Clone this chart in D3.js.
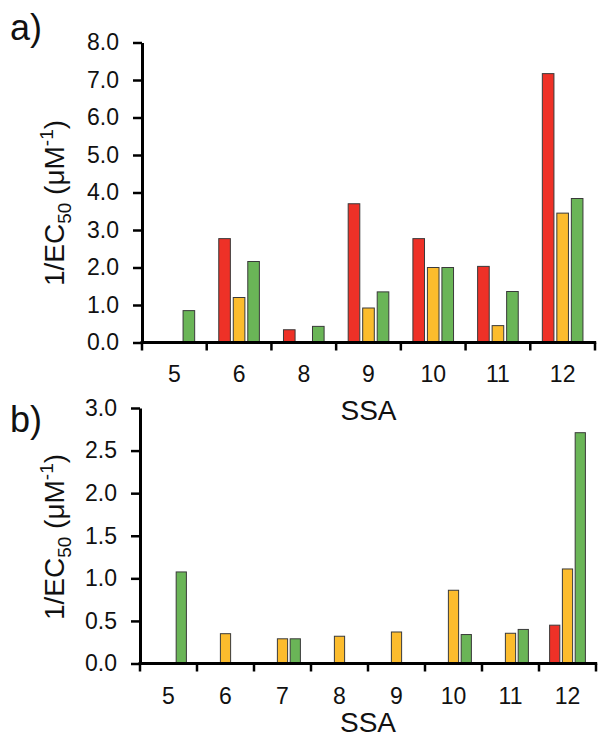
<!DOCTYPE html>
<html>
<head>
<meta charset="utf-8">
<script src="https://cdn.jsdelivr.net/npm/d3@7"></script>
<style>
  html, body { margin: 0; padding: 0; background: #fff; }
  svg { display: block; }
  text { font-family: "Liberation Sans", Arial, Helvetica, sans-serif; fill: #111; }
</style>
</head>
<body>
<svg id="chart" width="598" height="738"></svg>
<script>
// ---- Data ----
const seriesNames = ["red", "orange", "green"];
const seriesColors = ["#ee3127", "#fcbc2d", "#6ab557"];

const categoriesA = ["5", "6", "8", "9", "10", "11", "12"];
const redA    = [null, 2.77, 0.34, 3.70, 2.77, 2.03, 7.17];
const orangeA = [null, 1.20, null, 0.92, 2.00, 0.45, 3.45];
const greenA  = [0.85, 2.16, 0.43, 1.35, 2.00, 1.36, 3.84];
const yTicksA = [0, 1, 2, 3, 4, 5, 6, 7, 8];

const categoriesB = ["5", "6", "7", "8", "9", "10", "11", "12"];
const redB    = [null, null, null, null, null, null, null, 0.45];
const orangeB = [null, 0.35, 0.29, 0.32, 0.37, 0.86, 0.355, 1.11];
const greenB  = [1.075, null, 0.29, null, null, 0.34, 0.40, 2.71];
const yTicksB = [0, 0.5, 1.0, 1.5, 2.0, 2.5, 3.0];

const svg = d3.select("#chart");

function panel(opts) {
  const { cats, series, yMax, yTicks, x0, x1, yBottom, yTop, label, labelX, labelY,
          xLabelY, ssaY, yTitleX, yTitleY } = opts;
  const g = svg.append("g");
  const x = d3.scaleBand().domain(cats).range([x0, x1]).padding(0);
  const y = d3.scaleLinear().domain([0, yMax]).range([yBottom, yTop]);
  const inner = d3.scaleBand().domain(seriesNames).range([0, x.bandwidth()])
    .paddingInner(0.2).paddingOuter(0.83);

  // bars
  series.forEach((vals, si) => {
    const rows = cats.map((c, i) => ({ c, v: vals[i] })).filter(d => d.v != null);
    g.selectAll(null).data(rows).enter().append("rect")
      .attr("x", d => x(d.c) + inner(seriesNames[si]))
      .attr("width", inner.bandwidth())
      .attr("y", d => y(d.v))
      .attr("height", d => y(0) - y(d.v))
      .attr("fill", seriesColors[si])
      .attr("stroke", "#3a3a3a")
      .attr("stroke-width", 1);
  });

  // y axis
  const yAxis = d3.axisLeft(y).tickValues(yTicks).tickFormat(d3.format(".1f"))
    .tickSize(9).tickSizeOuter(0).tickPadding(14);
  const ya = g.append("g").attr("transform", `translate(${x0},0)`).call(yAxis);
  ya.select(".domain").attr("stroke", "#000").attr("stroke-width", 3);
  ya.selectAll(".tick line").attr("stroke", "#000").attr("stroke-width", 2.5);
  ya.selectAll(".tick text").style("font-size", "23px").attr("fill", "#111");

  // x axis: labels only, ticks drawn between groups
  const xAxis = d3.axisBottom(x).tickSize(0).tickPadding(0);
  const xa = g.append("g").attr("transform", `translate(0,${y(0)})`).call(xAxis);
  xa.select(".domain").remove();
  xa.selectAll(".tick text").style("font-size", "23px").attr("fill", "#111")
    .attr("dy", null).attr("y", xLabelY - y(0));
  const bounds = cats.map(c => x(c)).concat([x1]);
  g.selectAll(null).data(bounds).enter().append("line")
    .attr("x1", d => d).attr("x2", d => d)
    .attr("y1", y(0)).attr("y2", y(0) + 8)
    .attr("stroke", "#000").attr("stroke-width", 2.5);
  g.append("line").attr("x1", x0 - 1.5).attr("x2", x1 + 1.2)
    .attr("y1", y(0)).attr("y2", y(0))
    .attr("stroke", "#000").attr("stroke-width", 3);

  // SSA
  g.append("text").attr("x", (x0 + x1) / 2).attr("y", ssaY)
    .attr("text-anchor", "middle").style("font-size", "28px").text("SSA");

  // y title
  const t = g.append("text")
    .attr("transform", `translate(${yTitleX},${yTitleY}) rotate(-90)`)
    .attr("text-anchor", "middle").style("font-size", "28px");
  t.append("tspan").text("1/EC");
  t.append("tspan").attr("dy", 7).style("font-size", "19px").text("50");
  t.append("tspan").attr("dy", -7).text(" (μM");
  t.append("tspan").attr("dy", -11).style("font-size", "19px").text("-1");
  t.append("tspan").attr("dy", 11).text(")");

  // panel label
  g.append("text").attr("x", labelX).attr("y", labelY).style("font-size", "36px").text(label);
}

panel({
  cats: categoriesA, series: [redA, orangeA, greenA], yMax: 8, yTicks: yTicksA,
  x0: 142, x1: 595, yBottom: 342.5, yTop: 42.5, label: "a)", labelX: 10, labelY: 40,
  xLabelY: 382, ssaY: 420, yTitleX: 64, yTitleY: 203
});
panel({
  cats: categoriesB, series: [redB, orangeB, greenB], yMax: 3, yTicks: yTicksB,
  x0: 140, x1: 596, yBottom: 663.5, yTop: 408, label: "b)", labelX: 10, labelY: 432,
  xLabelY: 704, ssaY: 732, yTitleX: 64, yTitleY: 537
});
</script>
</body>
</html>
